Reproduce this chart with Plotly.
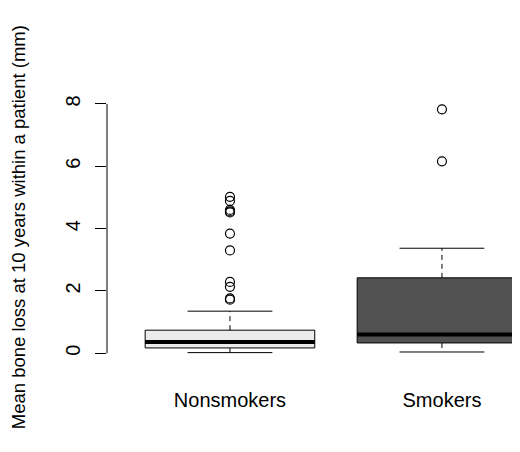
import plotly.graph_objects as go

# ---- data ----
groups = ["Nonsmokers", "Smokers"]
lower_whisker = [0.02, 0.04]
q1 = [0.17, 0.33]
median = [0.36, 0.60]
q3 = [0.74, 2.42]
upper_whisker = [1.35, 3.37]
outliers = [
    [5.02, 4.89, 4.60, 4.55, 4.52, 3.84, 3.30, 2.29, 2.13, 1.76, 1.72],
    [7.83, 6.16],
]
fills = ["#ebebeb", "#525252"]
y_ticks = [0, 2, 4, 6, 8]
y_title = "Mean bone loss at 10 years within a patient (mm)"

BOX_HALF = 0.4
CAP_HALF = 0.2
FONT = "Liberation Sans, Arial, sans-serif"

fig = go.Figure()
positions = list(range(1, len(groups) + 1))

for i, pos in enumerate(positions):
    # box
    fig.add_trace(go.Scatter(
        x=[pos - BOX_HALF, pos + BOX_HALF, pos + BOX_HALF, pos - BOX_HALF, pos - BOX_HALF],
        y=[q1[i], q1[i], q3[i], q3[i], q1[i]],
        mode="lines", fill="toself", fillcolor=fills[i],
        line=dict(color="black", width=1), hoverinfo="skip", showlegend=False))
    # median
    fig.add_trace(go.Scatter(
        x=[pos - BOX_HALF, pos + BOX_HALF], y=[median[i], median[i]],
        mode="lines", line=dict(color="black", width=4), showlegend=False))
    # whiskers (dashed)
    fig.add_trace(go.Scatter(
        x=[pos, pos, None, pos, pos],
        y=[q3[i], upper_whisker[i], None, q1[i], lower_whisker[i]],
        mode="lines", line=dict(color="black", width=1, dash="5px,4px"),
        showlegend=False))
    # caps
    fig.add_trace(go.Scatter(
        x=[pos - CAP_HALF, pos + CAP_HALF, None, pos - CAP_HALF, pos + CAP_HALF],
        y=[upper_whisker[i], upper_whisker[i], None, lower_whisker[i], lower_whisker[i]],
        mode="lines", line=dict(color="black", width=1), showlegend=False))
    # outliers
    fig.add_trace(go.Scatter(
        x=[pos] * len(outliers[i]), y=outliers[i], mode="markers",
        marker=dict(symbol="circle-open", size=9, color="black", line=dict(width=1.2)),
        showlegend=False))

# y axis line spanning the tick range only (R style)
fig.add_shape(type="line", xref="paper", yref="y", x0=0, x1=0,
              y0=min(y_ticks), y1=max(y_ticks), line=dict(color="black", width=1))

# y axis title
fig.add_annotation(text=y_title, xref="paper", yref="paper", x=-0.215, y=0.515,
                   xanchor="center", yanchor="middle", textangle=-90, showarrow=False,
                   font=dict(family=FONT, size=18.5, color="black"))

# page body has an 8px margin, so the figure is 8px smaller and margins shifted
fig.update_layout(
    width=512, height=444,
    margin=dict(l=99, r=0, t=91, b=89),
    paper_bgcolor="white", plot_bgcolor="white",
    font=dict(family=FONT, size=20, color="black"),
    xaxis=dict(range=[0.42, 0.42 + 413 / 212], tickvals=positions, ticktext=groups,
               showgrid=False, zeroline=False, showline=False, ticks="",
               automargin=False, ticklabelstandoff=23, tickfont=dict(size=20)),
    yaxis=dict(range=[-0.3135, 8.16], tickvals=y_ticks, showgrid=False, zeroline=False,
               showline=False, ticks="outside", ticklen=11, tickwidth=1, tickcolor="black",
               automargin=False, tickangle=-90, ticklabelstandoff=7, tickfont=dict(size=20)),
)

fig.write_html("out.html")
